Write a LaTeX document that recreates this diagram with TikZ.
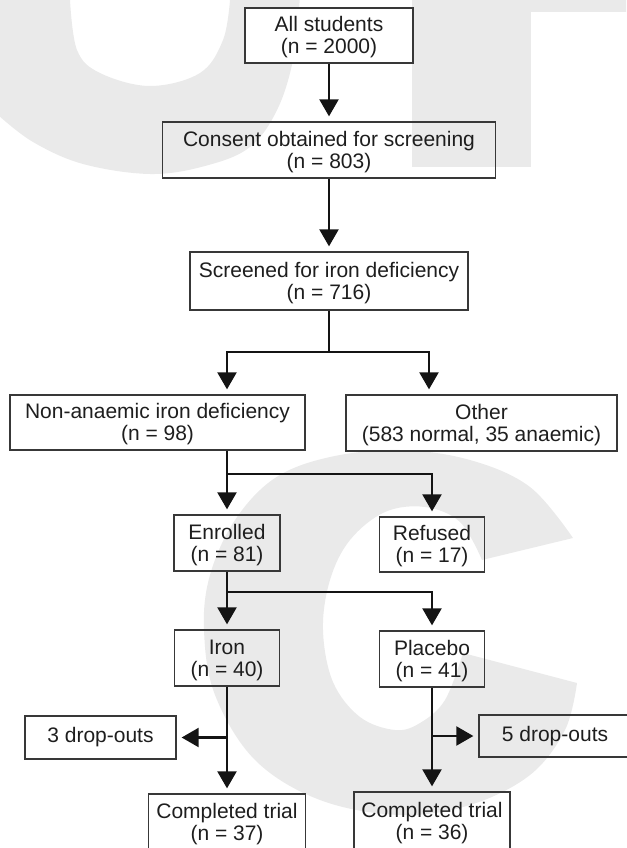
\documentclass[tikz,border=0pt]{standalone}
\usepackage{fontspec}
\setmainfont{Liberation Sans}
\usetikzlibrary{arrows.meta}
\definecolor{wm}{RGB}{234,234,234}
\definecolor{ink}{RGB}{30,30,30}
\newcommand{\twoln}[2]{\rule{0pt}{19pt}#1\\#2}
\begin{document}
\begin{tikzpicture}[x=1pt,y=-1pt,
  box/.style={draw=black!78, line width=1.3pt, inner sep=0pt, align=center, text=ink,
              font=\fontsize{21}{22}\selectfont},
  ln/.style={draw=black!92, line width=2.2pt},
  arr/.style={ln, -{Triangle[width=19pt,length=17pt]}, shorten >=5pt},
]
\useasboundingbox (0,0) rectangle (626,848);
% watermark
\begin{scope}
\clip (0,0) rectangle (626,848);
\fill[wm, even odd rule] (-5,-5) -- plot[smooth, tension=0.6] coordinates {(-2,115) (33,142) (83,164) (150,174) (205,166) (250,147) (278,108) (294,55) (300,-5)} -- cycle
  (70,-5) -- plot[smooth, tension=0.6] coordinates {(70,0) (77,50) (100,73) (150,86) (200,73) (223,40) (230,0)} -- (230,-5) -- cycle;
\fill[wm] (412,-5) rectangle (531,167);
\fill[wm] (412,-5) rectangle (630,12);
\fill[wm] plot[smooth, tension=0.6] coordinates {(573,538) (530,487) (470,460) (400,450) (330,457) (275,478) (235,520) (210,575) (204,630) (215,695) (255,760) (320,800) (400,815) (470,805) (530,775) (565,730) (577,683)}
  -- plot[smooth, tension=0.6] coordinates {(463,653) (445,700) (420,723) (395,730) (360,717) (333,682) (323,630) (330,580) (350,540) (385,512) (425,507) (460,522) (482,560)} -- cycle;
\end{scope}
% boxes
\node[box, fill=white, minimum width=168, minimum height=55] (all) at (329,35.5) {\twoln{All students}{(n = 2000)}};
\node[box, minimum width=333, minimum height=56] (cons) at (329,150) {\twoln{Consent obtained for screening}{(n = 803)}};
\node[box, minimum width=278, minimum height=58] (scr) at (329,281) {\twoln{Screened for iron deficiency}{(n = 716)}};
\node[box, minimum width=295, minimum height=55] (non) at (157.5,422.5) {\twoln{Non-anaemic iron deficiency}{(n = 98)}};
\node[box, minimum width=271, minimum height=56] (oth) at (481.5,423) {\twoln{Other}{(583 normal, 35 anaemic)}};
\node[box, minimum width=106, minimum height=56] (enr) at (227,543) {\twoln{Enrolled}{(n = 81)}};
\node[box, minimum width=105, minimum height=55] (ref) at (432,544.5) {\twoln{Refused}{(n = 17)}};
\node[box, minimum width=105, minimum height=56] (iron) at (227,658) {\twoln{Iron}{(n = 40)}};
\node[box, minimum width=105, minimum height=56] (plac) at (432,659) {\twoln{Placebo}{(n = 41)}};
\node[box, minimum width=151, minimum height=43] (d3) at (100.5,737.5) {3 drop-outs};
\node[box, minimum width=152, minimum height=42] (d5) at (555,736) {5 drop-outs};
\node[box, minimum width=157, minimum height=56] (comp1) at (227,822) {\twoln{Completed trial}{(n = 37)}};
\node[box, minimum width=156, minimum height=58] (comp2) at (432,821) {\twoln{Completed trial}{(n = 36)}};
% connectors
\draw[arr] (all.south) -- (all.south |- cons.north);
\draw[arr] (cons.south) -- (cons.south |- scr.north);
\coordinate (b1) at (329,352);
\draw[ln] (scr.south) -- (b1);
\draw[arr] (b1) -| ([xshift=69.5pt]non.north);
\draw[arr] (b1) -| ([xshift=-52.5pt]oth.north);
\coordinate (b2) at (227,474);
\draw[ln] (enr.north |- non.south) -- (b2);
\draw[arr] (b2) -- (enr.north);
\draw[arr] (b2) -| (ref.north);
\coordinate (b3) at (227,592);
\draw[ln] (enr.south) -- (b3);
\draw[arr] (b3) -- (iron.north);
\draw[arr] (b3) -| (plac.north);
\draw[arr] (iron.south) -- (comp1.north);
\draw[arr] (iron.south |- d3.east) -- (d3.east);
\draw[arr] (plac.south) -- (comp2.north);
\draw[arr] (plac.south |- d5.west) -- (d5.west);
\end{tikzpicture}
\end{document}
